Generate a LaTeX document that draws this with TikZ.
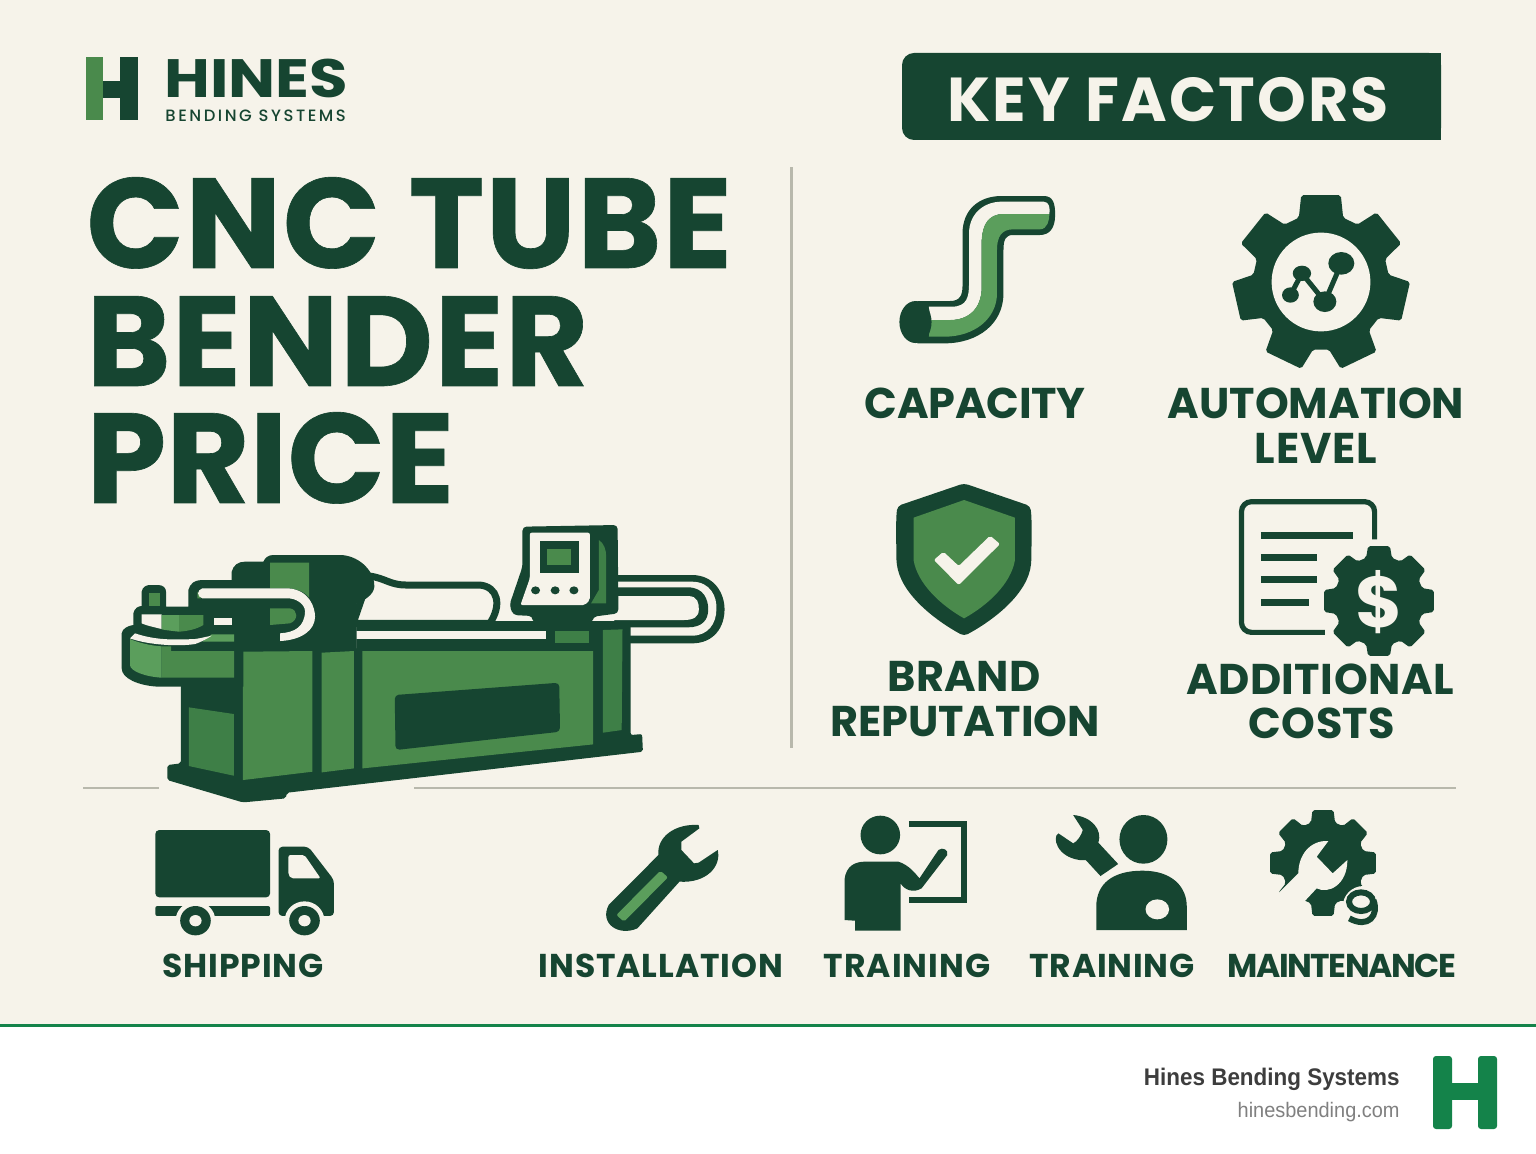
\documentclass[tikz,border=0pt]{standalone}
\usepackage{graphicx}
\usepackage{fontspec}
\setmainfont{Poppins}
\newfontfamily\mediumfont{Poppins Medium}
\newfontfamily\footfont{Liberation Sans}
\definecolor{paper}{HTML}{F6F3EA}
\definecolor{pine}{HTML}{164531}
\definecolor{fern}{HTML}{4A8A4C}
\definecolor{leaf}{HTML}{5B9E5C}
\definecolor{moss}{HTML}{3E7F47}
\definecolor{rulegray}{HTML}{B8B8AC}
\definecolor{footgreen}{HTML}{14834A}
\newcommand{\spaced}[2]{{\addfontfeatures{LetterSpace=#1}#2}}
\tikzset{
  titletext/.style={anchor=base west,inner sep=0pt,text=pine,font=\fontsize{64}{64}\selectfont\bfseries\addfontfeatures{FakeBold=0.5}},
  bigtext/.style={anchor=base,inner sep=0pt,text=pine,font=\fontsize{21.5}{21.5}\selectfont\bfseries},
  smalltext/.style={anchor=base,inner sep=0pt,text=pine,font=\fontsize{16.5}{16.5}\selectfont\bfseries},
  machinezoom/.style={shift={(100,510)},x=0.2041pt,y=-0.1667pt},
  headzoom/.style={shift={(115,545)},x=0.1667pt,y=-0.1667pt},
  upperzoom/.style={shift={(860,170)},x=0.1913pt,y=-0.1667pt},
  lowerzoom/.style={shift={(860,470)},x=0.1913pt,y=-0.1667pt},
  truckzoom/.style={shift={(140,800)},x=0.1913pt,y=-0.1667pt},
  peoplezoom/.style={shift={(810,800)},x=0.2105pt,y=-0.1667pt},
  servicezoom/.style={shift={(1260,805)},x=0.1667pt,y=-0.1667pt}
}
% cx, cy, outer radius, root radius, teeth, turn
\newcommand{\gearicon}[6]{
  \fill[pine,rounded corners=1pt] ({#1+#4*cos(#6-.37*360/#5)},{#2+#4*sin(#6-.37*360/#5)})
    \foreach \k in {1,...,#5}{
      -- ({#1+#4*cos(#6+(\k-1-.37)*360/#5)},{#2+#4*sin(#6+(\k-1-.37)*360/#5)})
      -- ({#1+#3*cos(#6+(\k-1-.25)*360/#5)},{#2+#3*sin(#6+(\k-1-.25)*360/#5)})
      -- ({#1+#3*cos(#6+(\k-1+.25)*360/#5)},{#2+#3*sin(#6+(\k-1+.25)*360/#5)})
      -- ({#1+#4*cos(#6+(\k-1+.37)*360/#5)},{#2+#4*sin(#6+(\k-1+.37)*360/#5)})
    } -- cycle;
}
\begin{document}
\begin{tikzpicture}[x=0.5pt,y=-0.5pt]
\useasboundingbox (0,0) rectangle (1536,1154);
\fill[paper] (0,0) rectangle (1536,1024);
\fill[white] (0,1027) rectangle (1536,1154);
\fill[footgreen] (0,1024) rectangle (1536,1027);

% logo
\fill[fern] (86,57) rectangle (103,120);
\fill[pine] (120,57) rectangle (138,120);
\fill[pine] (103,81) rectangle (120,98);
\node[anchor=base west,inner sep=0pt,text=pine,font=\fontsize{27}{27}\selectfont\bfseries] (hines) at (164,98) {\scalebox{1.16}[1]{HINES}};
\node[anchor=base west,inner sep=0pt,text=pine,font=\mediumfont\fontsize{8.2}{8.2}\selectfont\addfontfeatures{LetterSpace=15.5}] (bending) at (165,122) {BENDING SYSTEMS};

% badge
\fill[pine,rounded corners=6pt] (902,53) rectangle (1441,140);
\fill[pine] (1400,53) rectangle (1441,140);
\node[anchor=base,inner sep=0pt,text=paper,font=\fontsize{31}{31}\selectfont\bfseries\addfontfeatures{LetterSpace=3.5}] (factors) at (1168,122) {KEY FACTORS};

% title
\node[titletext] (titleone) at (86,268) {\spaced{1}{CNC TUBE}};
\node[titletext] (titletwo) at (86,386) {\spaced{1}{BENDER}};
\node[titletext] (titlethree) at (86,503) {PRICE};

% rules
\fill[rulegray] (790,167) rectangle (792.5,748);
\fill[rulegray] (83,786.5) rectangle (159,789);
\fill[rulegray] (414,786.5) rectangle (1456,789);

% machine
\begin{scope}[machinezoom]
  % tube loop at the back
  \fill[pine] (1260,195) -- (1450,195) .. controls (1505,195) and (1530,250) .. (1530,298) .. controls (1530,350) and (1505,400) .. (1450,400) -- (1260,400) -- cycle;
  \fill[paper] (1260,215) -- (1450,215) .. controls (1495,215) and (1512,260) .. (1510,298) .. controls (1510,340) and (1490,377) .. (1450,377) -- (1260,377) -- cycle;
  \fill[pine] (1260,232) -- (1440,232) .. controls (1480,232) and (1490,270) .. (1490,298) .. controls (1490,330) and (1475,352) .. (1440,352) -- (1260,352) -- cycle;
  \fill[paper] (1260,258) -- (1440,258) .. controls (1465,258) and (1467,280) .. (1467,298) .. controls (1467,320) and (1455,330) .. (1430,330) -- (1210,330) -- (1210,310) -- cycle;
  % cable
  \draw[pine,line width=3.5pt,fill=paper] (660,198) .. controls (700,205) and (710,225) .. (750,225) -- (930,225) .. controls (975,230) and (985,285) .. (955,340) -- (620,340) -- cycle;
  % body
  \fill[pine,rounded corners=1pt] (198,420) -- (628,420) -- (628,333) -- (1060,333) -- (1300,333) -- (1300,675) -- (1328,672) -- (1330,725) -- (458,848) -- (455,865) -- (350,877) -- (165,810) -- (165,765) -- (198,760) -- cycle;
  \fill[moss] (218,592) -- (328,612) -- (328,797) -- (218,768) -- cycle;
  \fill[fern] (350,425) -- (520,423) -- (520,785) -- (350,810) -- cycle;
  \fill[fern] (543,428) -- (622,423) -- (622,775) -- (543,787) -- cycle;
  \fill[fern] (643,423) -- (1208,423) -- (1208,703) -- (643,775) -- cycle;
  \fill[pine,rounded corners=2pt] (722,555) -- (1125,518) -- (1127,665) -- (724,720) -- cycle;
  \fill[moss] (1232,360) -- (1280,358) -- (1278,660) -- (1232,668) -- cycle;
  \fill[paper] (628,362) -- (1092,362) -- (1092,388) -- (628,388) -- cycle;
  \fill[moss] (1115,362) -- (1198,362) -- (1198,398) -- (1115,398) -- cycle;
\end{scope}
% clamp head and bend die
\begin{scope}[headzoom]
  \fill[pine] (20,265) .. controls (22,250) and (40,242) .. (55,240) -- (55,205) .. controls (58,190) and (70,183) .. (80,183) -- (80,140) .. controls (82,125) and (95,120) .. (105,120) -- (130,120) .. controls (145,120) and (153,130) .. (153,140) -- (153,185) -- (220,185) -- (220,135) .. controls (225,115) and (240,105) .. (260,105) -- (350,105) -- (350,80) .. controls (355,60) and (370,50) .. (390,50) -- (445,50) .. controls (450,38) and (460,30) .. (475,30) -- (680,30) .. controls (740,35) and (780,85) .. (778,125) .. controls (775,150) and (750,165) .. (725,175) -- (725,316) -- (385,316) -- (385,425) -- (130,425) .. controls (70,422) and (20,400) .. (20,370) -- cycle;
  \fill[fern] (103,145) rectangle (135,183);
  \fill[paper] (80,208) -- (140,208) -- (140,252) .. controls (110,245) and (90,240) .. (80,235) -- cycle;
  \fill[leaf] (140,210) -- (192,210) -- (192,260) .. controls (175,258) and (155,256) .. (140,253) -- cycle;
  \fill[fern] (192,210) -- (265,210) -- (265,240) .. controls (245,252) and (220,258) .. (192,260) -- cycle;
  \fill[paper] (298,218) rectangle (352,240);
  \fill[leaf] (290,268) -- (357,268) -- (357,290) -- (262,290) -- cycle;
  \fill[paper] (60,265) .. controls (120,285) and (170,285) .. (240,282) .. controls (255,280) and (270,276) .. (290,272) .. controls (270,285) and (255,292) .. (240,297) .. controls (190,305) and (100,300) .. (45,280) -- cycle;
  \fill[leaf] (45,282) .. controls (75,295) and (110,302) .. (140,304) -- (140,398) .. controls (90,395) and (45,378) .. (45,360) -- cycle;
  \fill[fern] (140,304) -- (168,304) -- (168,318) -- (357,318) -- (357,398) -- (140,398) -- cycle;
  \fill[fern] (465,53) -- (582,53) -- (582,158) .. controls (570,140) and (540,130) .. (520,130) -- (465,130) -- cycle;
  \fill[fern] (247,140) -- (258,160) -- (247,160) -- cycle;
  \fill[fern] (465,190) -- (525,190) .. controls (550,195) and (550,225) .. (525,235) -- (465,240) -- cycle;
  \fill[paper] (262,130) -- (520,130) .. controls (585,135) and (600,190) .. (600,215) .. controls (600,255) and (560,285) .. (495,288) -- (495,265) .. controls (540,262) and (568,245) .. (570,200) .. controls (570,175) and (540,160) .. (520,160) -- (262,160) .. controls (245,155) and (245,135) .. (262,130) -- cycle;
\end{scope}
% control panel
\begin{scope}[machinezoom]
  \fill[pine,rounded corners=2pt] (1035,50) -- (1268,45) -- (1270,310) -- (1208,320) -- (1205,340) -- (1060,340) -- (1060,318) -- (1012,315) -- (1003,285) -- (1035,170) -- cycle;
  \fill[paper,rounded corners=1pt] (1053,68) -- (1200,68) -- (1200,270) -- (1188,285) -- (1030,285) -- (1053,205) -- cycle;
  \fill[pine] (1077,93) rectangle (1173,190);
  \fill[fern] (1096,118) rectangle (1155,165);
  \foreach \bx in {1067,1115,1161}{
    \fill[pine] (\bx,241) ellipse [x radius=11,y radius=12];
  }
  \fill[moss] (1222,90) .. controls (1235,100) and (1240,120) .. (1240,140) -- (1240,280) -- (1203,280) -- (1222,240) -- cycle;
\end{scope}

% capacity pipe
\begin{scope}[upperzoom]
  \fill[pine] (150,393) -- (235,393) .. controls (262,393) and (268,375) .. (268,345) -- (268,190) .. controls (268,120) and (310,78) .. (370,78) -- (480,78) .. controls (505,78) and (510,100) .. (510,135) .. controls (510,175) and (495,195) .. (470,195) -- (400,195) .. controls (380,195) and (375,210) .. (375,240) -- (375,370) .. controls (375,460) and (310,520) .. (220,520) -- (150,520) -- cycle;
  \fill[paper] (180,410) -- (240,410) .. controls (280,410) and (285,380) .. (285,340) -- (285,190) .. controls (285,130) and (325,95) .. (370,95) -- (480,95) .. controls (495,95) and (497,115) .. (495,132) -- (375,132) .. controls (335,132) and (320,165) .. (318,210) -- (318,350) .. controls (318,420) and (280,450) .. (235,450) -- (185,450) -- cycle;
  \fill[leaf] (185,450) -- (235,450) .. controls (280,450) and (318,420) .. (318,350) -- (318,210) .. controls (320,165) and (335,132) .. (375,132) -- (495,132) .. controls (495,150) and (490,178) .. (470,178) -- (400,178) .. controls (370,178) and (358,200) .. (358,240) -- (358,370) .. controls (358,445) and (300,500) .. (220,500) -- (180,500) -- cycle;
  \fill[pine] (145,456) ellipse [x radius=42,y radius=63];
\end{scope}
\node[bigtext] (capacity) at (975,419) {\spaced{-0.5}{CAPACITY}};

% automation gear
\gearicon{1321}{282}{89}{68}{7}{-90}
\fill[paper] (1321,282) circle (24.7pt);
\begin{scope}[upperzoom]
  \draw[pine,line width=2.5pt] (1125,375) -- (1155,310) -- (1215,395) -- (1258,280);
  \fill[pine] (1155,310) ellipse [x radius=24,y radius=23];
  \fill[pine] (1125,375) ellipse [x radius=22,y radius=23];
  \fill[pine] (1215,395) ellipse [x radius=30,y radius=31];
  \fill[pine] (1258,280) ellipse [x radius=34,y radius=34];
\end{scope}
\node[bigtext] (automation) at (1316,419) {AUTOMATION};
\node[bigtext] (level) at (1316,464) {\spaced{2}{LEVEL}};

% shield
\begin{scope}[lowerzoom]
  \fill[pine,rounded corners=2pt] (272,40) -- (445,108) .. controls (450,150) and (448,220) .. (448,270) .. controls (440,370) and (350,450) .. (272,498) .. controls (195,450) and (105,370) .. (95,270) .. controls (95,220) and (93,150) .. (98,108) -- cycle;
  \fill[fern] (272,90) -- (405,143) -- (405,270) .. controls (395,340) and (335,405) .. (272,445) .. controls (210,405) and (150,340) .. (140,270) -- (140,143) -- cycle;
  \fill[paper,rounded corners=1pt] (193,270) -- (218,245) -- (258,288) -- (340,197) -- (366,222) -- (258,345) -- cycle;
\end{scope}
\node[bigtext] (brand) at (964,691) {\spaced{1}{BRAND}};
\node[bigtext] (reputation) at (965,736) {REPUTATION};

% costs sheet
\begin{scope}[lowerzoom]
  \draw[pine,line width=2.6pt,rounded corners=5pt] (1345,208) -- (1345,95) -- (997,95) -- (997,487) -- (1215,487);
  \draw[pine,line width=3.4pt] (1048,197) -- (1288,197);
  \draw[pine,line width=3.4pt] (1048,262) -- (1195,262);
  \draw[pine,line width=3.4pt] (1048,328) -- (1195,328);
  \draw[pine,line width=3.4pt] (1048,397) -- (1173,397);
\end{scope}
\gearicon{1379}{601}{56}{45}{8}{-90}
\node[inner sep=0pt,text=paper,font=\fontsize{36}{36}\selectfont\bfseries] (dollar) at (1379,602) {\$};
\node[bigtext] (additional) at (1320,694) {\spaced{1.2}{ADDITIONAL}};
\node[bigtext] (costs) at (1322,738) {\spaced{0.8}{COSTS}};

% truck
\begin{scope}[truckzoom]
  \fill[pine,rounded corners=2pt] (40,90) rectangle (340,292);
  \fill[pine,rounded corners=1pt] (40,318) -- (340,318) -- (340,348) -- (40,348) -- cycle;
  \fill[pine,rounded corners=2pt] (362,140) -- (440,140) -- (507,240) -- (507,348) -- (362,348) -- cycle;
  \fill[paper,rounded corners=1pt] (388,165) -- (430,165) -- (472,235) -- (395,235) -- (388,225) -- cycle;
  \fill[paper] (145,362) ellipse [x radius=52,y radius=58];
  \fill[paper] (430,362) ellipse [x radius=52,y radius=58];
  \fill[paper] (340,349) rectangle (520,420);
  \fill[paper] (30,349) rectangle (340,420);
  \foreach \wx in {145,430}{
    \fill[pine] (\wx,362) ellipse [x radius=40,y radius=44];
    \fill[paper] (\wx,362) ellipse [x radius=16,y radius=17];
  }
\end{scope}
\node[smalltext] (shipping) at (243,977) {\spaced{2.6}{SHIPPING}};

% wrench
\begin{scope}[truckzoom]
  \fill[pine] (1225,315) -- (1355,165) .. controls (1350,110) and (1400,70) .. (1460,75) -- (1462,85) -- (1415,125) -- (1415,150) -- (1448,190) -- (1460,188) -- (1510,150) .. controls (1520,200) and (1480,250) .. (1410,245) -- (1300,385) .. controls (1250,410) and (1200,370) .. (1225,315) -- cycle;
  \fill[leaf,rounded corners=1pt] (1360,212) -- (1380,232) -- (1265,365) -- (1245,345) -- cycle;
\end{scope}
\node[smalltext] (installation) at (661,977) {\spaced{2.8}{INSTALLATION}};

% trainer and board
\begin{scope}[peoplezoom]
  \fill[pine] (167,105) ellipse [x radius=47,y radius=58];
  \fill[pine] (82,240) .. controls (85,195) and (110,185) .. (130,185) -- (210,185) .. controls (235,195) and (250,220) .. (260,235) -- (305,150) .. controls (315,140) and (330,150) .. (326,165) -- (265,265) .. controls (245,280) and (225,270) .. (215,250) -- (215,392) -- (107,392) -- (107,362) -- (82,360) -- cycle;
  \draw[pine,line width=3pt] (235,71) -- (366,71) -- (366,301) -- (235,301);
\end{scope}
\node[smalltext] (trainingone) at (907,977) {\spaced{3}{TRAINING}};

% worker with wrench
\begin{scope}[peoplezoom]
  \fill[pine] (792,118) ellipse [x radius=57,y radius=73];
  \fill[pine] (680,390) -- (680,320) .. controls (680,250) and (720,212) .. (790,212) .. controls (860,212) and (895,260) .. (895,320) -- (895,390) -- cycle;
  \fill[paper] (825,328) ellipse [x radius=28,y radius=30];
  \fill[pine] (690,228) -- (732,192) -- (685,128) .. controls (695,90) and (670,50) .. (625,45) -- (648,90) .. controls (645,105) and (635,125) .. (625,130) -- (590,100) .. controls (575,110) and (585,170) .. (640,180) -- (655,180) -- cycle;
\end{scope}
\node[smalltext] (trainingtwo) at (1112,977) {\spaced{2.4}{TRAINING}};

% maintenance gear
\gearicon{1323}{863}{54}{42}{8}{-90}
\begin{scope}[servicezoom]
  \fill[paper] (205,108) .. controls (150,105) and (115,150) .. (115,205) -- (50,270) -- (100,325) -- (170,250) .. controls (205,268) and (262,240) .. (262,165) -- (218,205) -- (170,155) -- cycle;
  \fill[paper] (25,225) -- (72,236) -- (45,275) -- (0,280) -- cycle;
  \fill[paper] (310,305) ellipse [x radius=62,y radius=62];
  \draw[pine,line width=3pt] (303,290) ellipse [x radius=36,y radius=28];
  \draw[pine,line width=3pt] (340,285) .. controls (358,330) and (325,372) .. (268,340);
\end{scope}
\node[smalltext] (maintenance) at (1342,977) {\spaced{-4.4}{MAINTENANCE}};

% footer
\node[anchor=base east,inner sep=0pt,text=black!76,font=\footfont\fontsize{12}{12}\selectfont\bfseries] (footname) at (1400,1085) {\scalebox{0.935}[1]{Hines Bending Systems}};
\node[anchor=base east,inner sep=0pt,text=black!50,font=\footfont\fontsize{10.5}{10.5}\selectfont] (footurl) at (1400,1117) {\scalebox{0.95}[1]{hinesbending.com}};
\fill[footgreen,rounded corners=1.5pt] (1433,1056) rectangle (1452,1129);
\fill[footgreen,rounded corners=1.5pt] (1478,1056) rectangle (1497,1129);
\fill[footgreen] (1450,1083) rectangle (1480,1100);
\end{tikzpicture}
\end{document}
